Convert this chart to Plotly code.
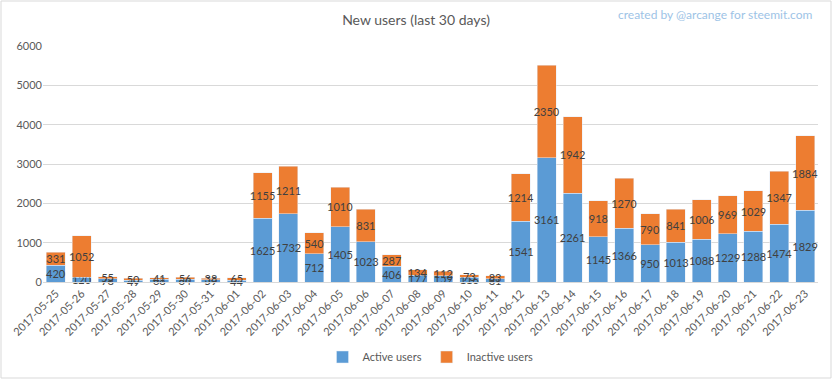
import plotly.graph_objects as go

dates = ["2017-05-25","2017-05-26","2017-05-27","2017-05-28","2017-05-29","2017-05-30","2017-05-31",
         "2017-06-01","2017-06-02","2017-06-03","2017-06-04","2017-06-05","2017-06-06","2017-06-07",
         "2017-06-08","2017-06-09","2017-06-10","2017-06-11","2017-06-12","2017-06-13","2017-06-14",
         "2017-06-15","2017-06-16","2017-06-17","2017-06-18","2017-06-19","2017-06-20","2017-06-21",
         "2017-06-22","2017-06-23"]
active = [420,120,78,49,68,64,59,44,1625,1732,712,1405,1023,406,177,159,116,81,1541,3161,2261,
          1145,1366,950,1013,1088,1229,1288,1474,1829]
inactive = [331,1052,55,50,41,56,38,65,1155,1211,540,1010,831,287,134,112,73,83,1214,2350,1942,
            918,1270,790,841,1006,969,1029,1347,1884]

W, H = 832, 379
ML, MR, MT, MB = 43, 14, 46, 97
FONT = "Lato"
label_font = dict(family=FONT, size=11, color="#404040")

fig = go.Figure()
fig.add_trace(go.Bar(x=dates, y=active, name="Active users", marker_color="#5B9BD5",
                     text=active, textposition="inside", insidetextanchor="middle", cliponaxis=False,
                     textfont=label_font, insidetextfont=label_font, textangle=0))
fig.add_trace(go.Bar(x=dates, y=inactive, name="Inactive users", marker_color="#ED7D31",
                     text=inactive, textposition="inside", insidetextanchor="middle", cliponaxis=False,
                     textfont=label_font, insidetextfont=label_font, textangle=0))

pw = W - ML - MR
ph = H - MT - MB
fig.update_layout(
    barmode="stack",
    bargap=0.26,
    width=W, height=H,
    margin=dict(l=ML, r=MR, t=MT, b=MB, autoexpand=False),
    paper_bgcolor="white", plot_bgcolor="white",
    font=dict(family=FONT, size=11, color="#595959"),
    uniformtext=dict(minsize=11, mode="show"),
    title=dict(text="New users (last 30 days)", x=0.5, xanchor="center", y=1 - 20/H, yanchor="middle",
               font=dict(family=FONT, size=14, color="#595959")),
    xaxis=dict(tickangle=-45, showgrid=False, showline=True, linecolor="#D9D9D9", automargin=False,
               tickfont=dict(family=FONT, size=11, color="#595959"), type="category"),
    yaxis=dict(range=[0, 6000], dtick=1000, gridcolor="#D9D9D9", zeroline=False, automargin=False,
               tickfont=dict(family=FONT, size=11, color="#595959"), ticklen=0),
    legend=dict(orientation="h", x=0.5, xanchor="center", yref="container", y=1 - 357 / H, yanchor="middle",
                itemwidth=30,
                font=dict(family=FONT, size=11, color="#595959"), traceorder="normal"),
    annotations=[dict(text="created by @arcange for steemit.com", xref="paper", yref="paper",
                      x=(815 - ML) / pw, y=1 + (MT - 15) / ph, xanchor="right", yanchor="middle",
                      showarrow=False, font=dict(family=FONT, size=12, color="#9DC3E6"))],
    shapes=[dict(type="rect", xref="paper", yref="paper",
                 x0=-(ML - 1) / pw, x1=1 + (MR - 1) / pw, y0=-(MB - 1) / ph, y1=1 + (MT - 1) / ph,
                 line=dict(color="#D9D9D9", width=1), layer="below")],
)
fig.write_html("out.html", config={"displayModeBar": False},
               post_script="document.body.style.margin='0';document.body.style.overflow='hidden';")
